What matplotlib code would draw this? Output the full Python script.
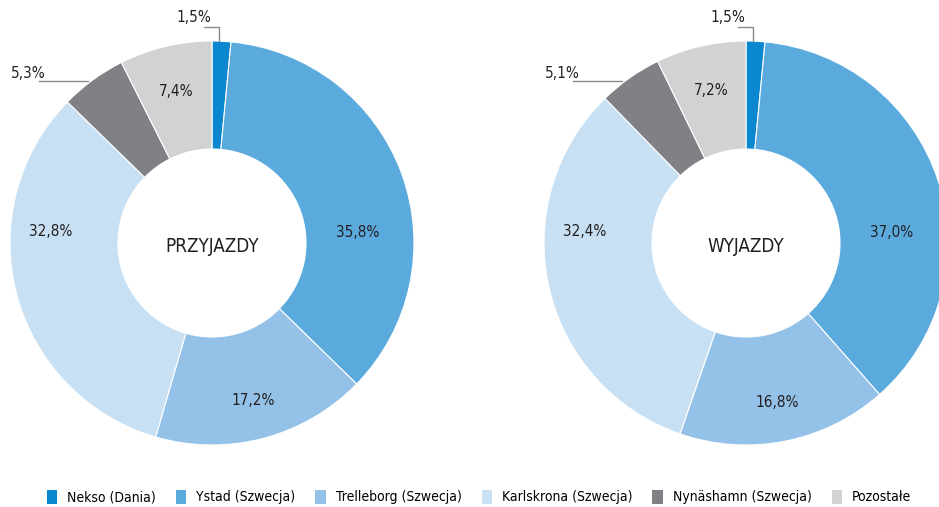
import numpy as np
import matplotlib
matplotlib.use("Agg")
import matplotlib.pyplot as plt
from matplotlib.patches import Patch
from matplotlib import font_manager

categories = ["Nekso (Dania)", "Ystad (Szwecja)", "Trelleborg (Szwecja)",
              "Karlskrona (Szwecja)", "Nynäshamn (Szwecja)", "Pozostałe"]
arrivals = [1.5, 35.8, 17.2, 32.8, 5.3, 7.4]
departures = [1.5, 37.0, 16.8, 32.4, 5.1, 7.2]
titles = ["PRZYJAZDY", "WYJAZDY"]

COLORS = ["#0a87cf", "#5aaade", "#93c1e7", "#c8e0f3", "#808184", "#d1d2d4"]
TEXT = "#231f20"
LINE = "#8a8a8a"

names = {f.name for f in font_manager.fontManager.ttflist}
FAMILY = ["Liberation Sans Narrow", "DejaVu Sans"] if "Liberation Sans Narrow" in names else ["DejaVu Sans"]
plt.rcParams["font.family"] = FAMILY
plt.rcParams["font.stretch"] = "condensed"

W, H = 939, 507
R_OUT, R_IN = 202, 94
CENTERS = [(212, 243), (746, 243)]
# radial distance of each in-ring label (None = labelled outside with a leader)
LABEL_R = [None, 146, 163, 162, None, 156]


def fmt(v):
    return f"{v:.1f}%".replace(".", ",")


def label_angle(a0, a1):
    # big slices crossing the horizontal get their label near it
    lo, hi = min(a0, a1), max(a0, a1)
    if lo < 0 < hi:
        return 4.0
    if lo < -180 < hi:
        return -184.0
    return (a0 + a1) / 2


def draw_donut(ax, values, center, title):
    cx, cy = center
    ax.pie(values, colors=COLORS, startangle=90, counterclock=False,
           radius=R_OUT, center=(cx, H - cy),
           wedgeprops=dict(width=R_OUT - R_IN, edgecolor="white", linewidth=0.8))
    ax.text(cx, H - cy - 4, title, ha="center", va="center", fontsize=13.5, color=TEXT)

    start = 90.0
    for v, r in zip(values, LABEL_R):
        end = start - v * 3.6
        ang = np.radians(label_angle(start, end))
        start = end
        if r is None:
            continue
        ax.text(cx + r * np.cos(ang), H - cy + r * np.sin(ang), fmt(v),
                ha="center", va="center", fontsize=11, color=TEXT)

    # leader for the first (thin) slice
    x0 = cx + 7
    ax.plot([x0 - 15, x0, x0], [H - 27, H - 27, H - cy + R_OUT], color=LINE, lw=1)
    ax.text(x0 - 25, H - 17, fmt(values[0]), ha="center", va="center",
            fontsize=11, color=TEXT)

    # leader for the dark grey slice
    ax.plot([cx - 173, cx - 124], [H - 81, H - 81], color=LINE, lw=1)
    ax.text(cx - 184, H - 73, fmt(values[4]), ha="center", va="center",
            fontsize=11, color=TEXT)


fig = plt.figure(figsize=(W / 100, H / 100), dpi=100)
ax = fig.add_axes([0, 0, 1, 1])
ax.set_xlim(0, W)
ax.set_ylim(0, H)
ax.set_aspect("equal")
ax.axis("off")

draw_donut(ax, arrivals, CENTERS[0], titles[0])
draw_donut(ax, departures, CENTERS[1], titles[1])
ax.set_xlim(0, W)
ax.set_ylim(0, H)

handles = [Patch(facecolor=c, edgecolor="none") for c in COLORS]
fig.legend(handles, categories, loc="center", bbox_to_anchor=(479 / W, 1 - 497 / H),
           ncol=6, frameon=False, fontsize=10, handlelength=0.75, handleheight=1.2,
           handletextpad=0.7, columnspacing=1.45, borderpad=0, borderaxespad=0)

fig.savefig("out.png", dpi=100)
